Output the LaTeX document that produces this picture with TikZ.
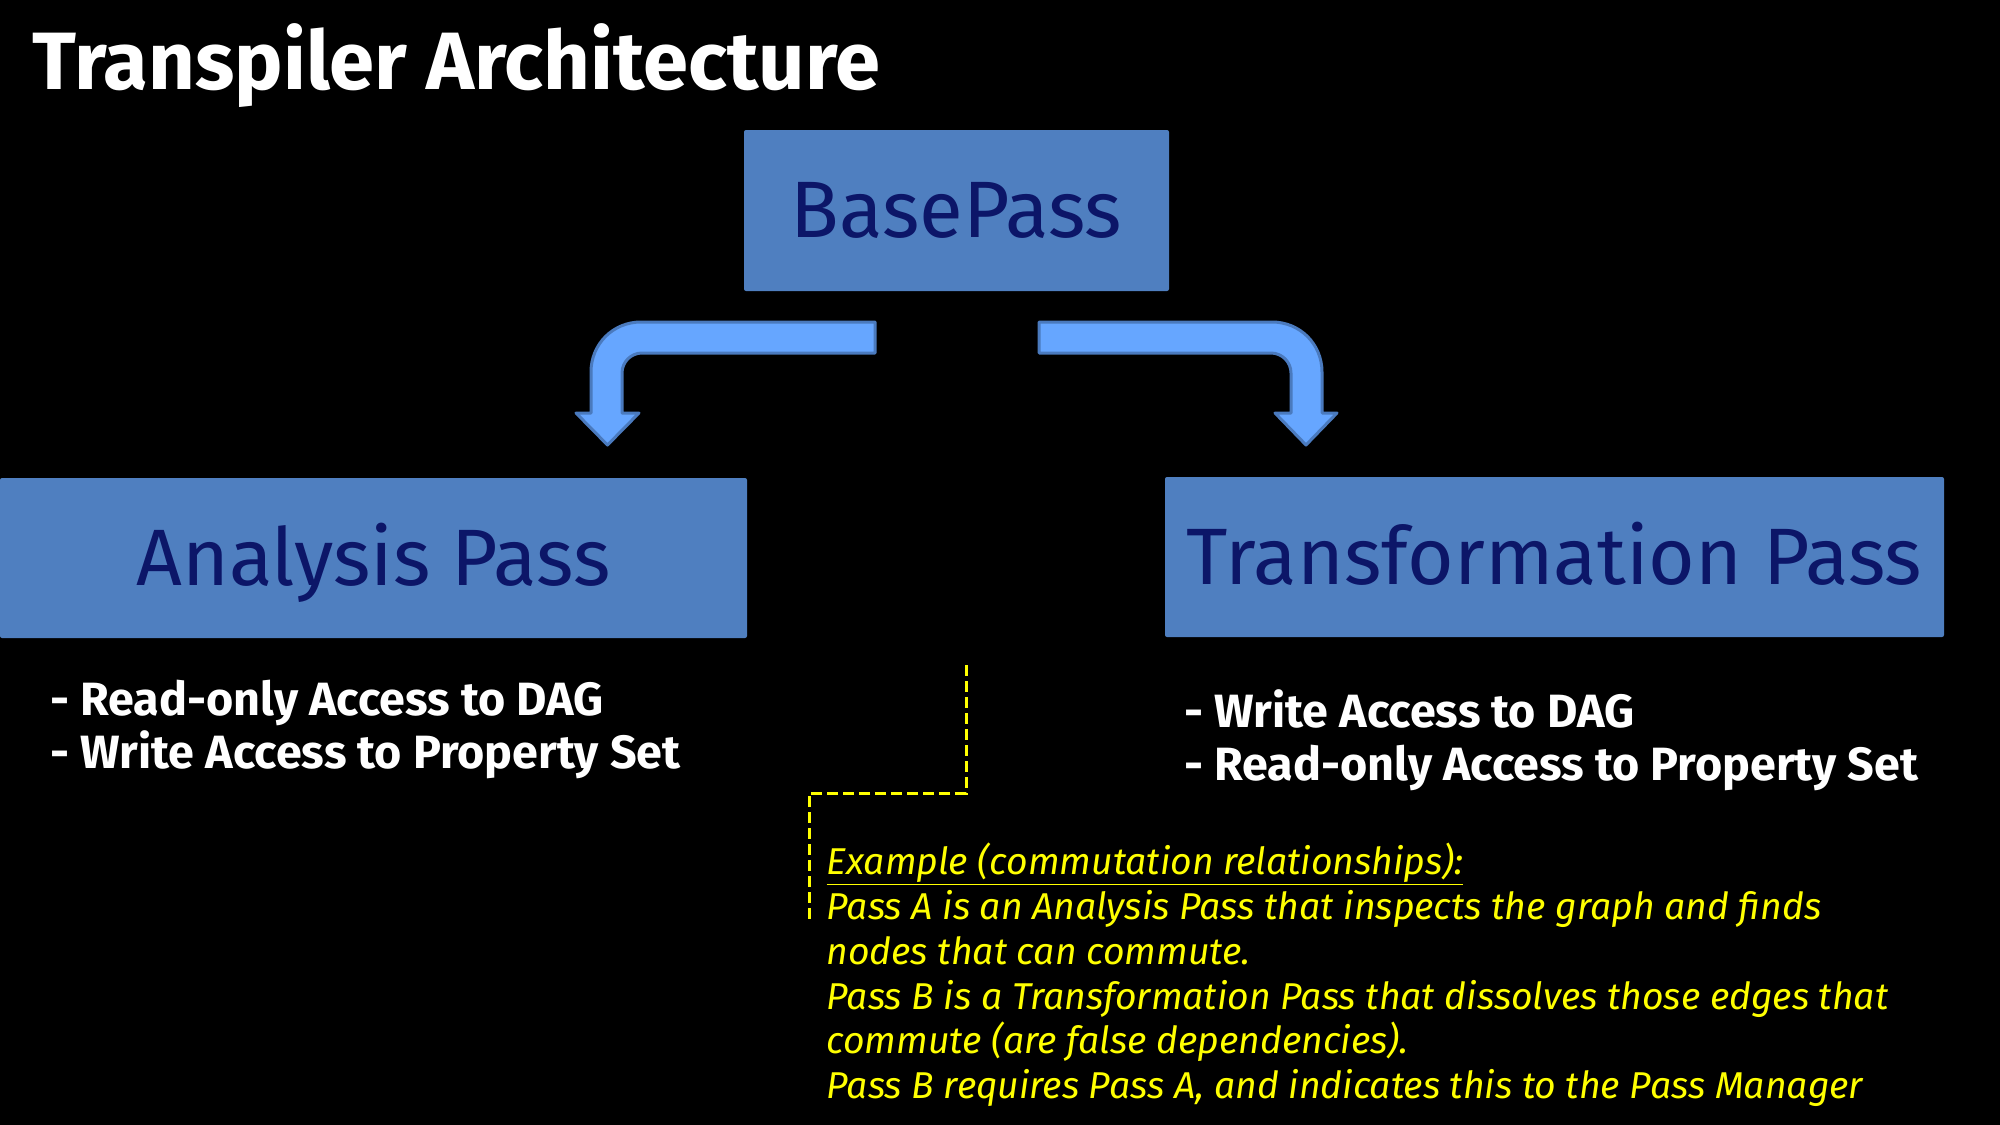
\documentclass[tikz,border=0pt]{standalone}
\usepackage{fontspec}
\setmainfont{Fira Sans}

\definecolor{boxblue}{RGB}{79,127,192}
\definecolor{boxtext}{RGB}{12,22,104}
\definecolor{arrowfill}{RGB}{102,166,255}
\definecolor{arrowedge}{RGB}{74,122,190}
\definecolor{noteyellow}{RGB}{255,255,0}

\tikzset{every picture/.style={line width=0.75pt}}
\tikzset{
  passbox/.style={fill=boxblue, draw=none, rounded corners=1.5pt, inner sep=0pt,
    text=boxtext, font=\fontsize{60}{72}\selectfont, text height=41pt, text depth=0pt},
  bendarrow/.style={fill=arrowfill, draw=arrowedge, line width=2.25pt, line join=round},
  listtext/.style={anchor=base west, inner sep=0pt, text=white, font=\fontsize{35}{42}\selectfont\bfseries},
  notetext/.style={anchor=base west, inner sep=0pt, text=noteyellow, font=\fontsize{28}{34}\selectfont\itshape},
  notedash/.style={draw=noteyellow, line width=2.25pt, dash pattern=on 8pt off 4pt}
}

\begin{document}
\begin{tikzpicture}[x=0.75pt,y=0.75pt,yscale=-1,xscale=1]
	%background, diagram is 2000 by 1125
	\path [fill=black, use as bounding box] (0,0) rectangle (2000,1125);

	% Text Node
	\draw (32,89) node [anchor=base west, inner sep=0pt, text=white, font=\fontsize{61}{72}\selectfont\bfseries] (title) {Transpiler Architecture};

	%Shape: Rectangle [BasePass]
	\node [passbox, minimum width=318.75pt, minimum height=120.75pt] (basepass) at (956.5,210.5) {BasePass};
	%Shape: Rectangle [Analysis Pass]
	\node [passbox, minimum width=560.25pt, minimum height=120pt] (analysis) at (373.5,558) {Analysis Pass};
	%Shape: Rectangle [Transformation Pass]
	\node [passbox, minimum width=584.25pt, minimum height=120pt] (transform) at (1554.5,557) {Transformation Pass};

	%Shape: Bent Arrow, to the left
	\draw [bendarrow] (875,322) -- (641,322) .. controls (613,322) and (591,344) .. (591,372) -- (591,413) -- (576,413) -- (607.5,445) -- (639,413) -- (622,413) -- (622,373) .. controls (622,362) and (631,353) .. (642,353) -- (875,353) -- cycle ;
	%Shape: Bent Arrow, to the right
	\draw [bendarrow] (1039,322) -- (1272,322) .. controls (1300,322) and (1322,344) .. (1322,372) -- (1322,413) -- (1337,413) -- (1306,445) -- (1275,413) -- (1291,413) -- (1291,373) .. controls (1291,362) and (1282,353) .. (1271,353) -- (1039,353) -- cycle ;

	% Text Node
	\draw (50,715) node [listtext] (anread) {- Read-only Access to DAG};
	% Text Node
	\draw (50,768) node [listtext] (anwrite) {- Write Access to Property Set};
	% Text Node
	\draw (1184,727) node [listtext] (trwrite) {- Write Access to DAG};
	% Text Node
	\draw (1184,780) node [listtext] (trread) {- Read-only Access to Property Set};

	%Straight Lines, dashed
	\coordinate (dashtop) at (966,665);
	\coordinate (dashbottom) at (809,920);
	\draw [notedash] (dashtop) -- (dashtop |- 0,793) -- (dashbottom |- 0,793) -- (dashbottom) ;

	% Text Node
	\draw (826,874) node [notetext] (ex0) {\underline{Example (commutation relationships):}};
	% Text Node
	\draw (826,919) node [notetext] (ex1) {Pass A is an Analysis Pass that inspects the graph and finds};
	% Text Node
	\draw (826,964) node [notetext] (ex2) {nodes that can commute.};
	% Text Node
	\draw (826,1009) node [notetext] (ex3) {Pass B is a Transformation Pass that dissolves those edges that};
	% Text Node
	\draw (826,1053) node [notetext] (ex4) {commute (are false dependencies).};
	% Text Node
	\draw (826,1098) node [notetext] (ex5) {Pass B requires Pass A, and indicates this to the Pass Manager};

\end{tikzpicture}
\end{document}
